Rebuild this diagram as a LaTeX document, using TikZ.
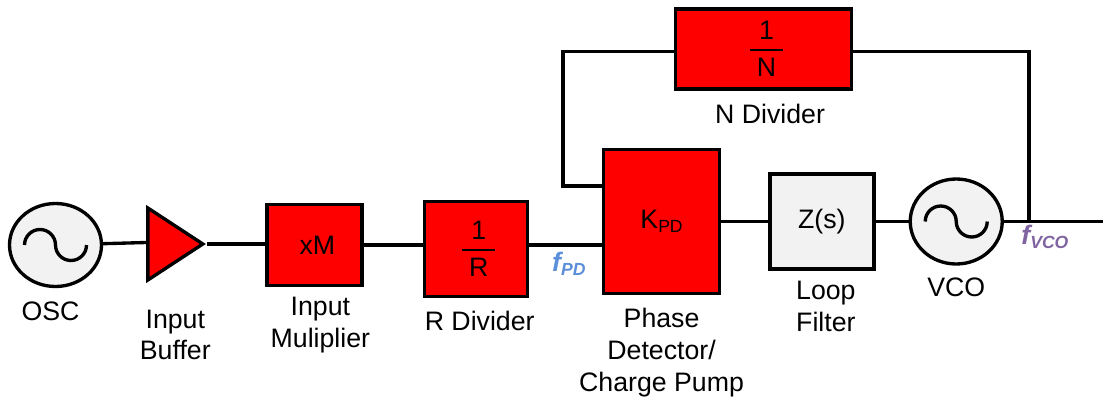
\documentclass[tikz,border=0pt]{standalone}
\usepackage{fontspec}
\setmainfont{Liberation Sans}
\usepackage{xcolor}
\usetikzlibrary{positioning,shapes.geometric}
\definecolor{blockred}{HTML}{FF0000}
\definecolor{blockgrey}{HTML}{F2F2F2}
\definecolor{pdblue}{HTML}{5B8FD9}
\definecolor{vcopurple}{HTML}{8064A2}
\newcommand{\lowtext}[1]{\raisebox{-0.3ex}{\fontsize{10}{12}\selectfont #1}}
\newcommand{\sinewave}[1]{\draw[wire] ([xshift=-0.62cm]#1.center) arc[start angle=180,end angle=0,radius=0.31cm] arc[start angle=180,end angle=360,radius=0.31cm];}
\newcommand{\ratio}[1]{\hspace*{0.12cm}1\\[-11.5pt]\hspace*{0.12cm}\rule{0.66cm}{1.1pt}\\[-3.3pt]\hspace*{0.12cm}#1}

\begin{document}
\begin{tikzpicture}[
  wire/.style={line width=1.9pt},
  block/.style={draw, line width=1.9pt, fill=blockred, align=center, font=\fontsize{15.2}{18}\selectfont, inner sep=0pt},
  gblock/.style={block, fill=blockgrey},
  source/.style={draw, line width=1.9pt, fill=blockgrey, ellipse, inner sep=0pt},
  amp/.style={draw, line width=1.9pt, fill=blockred, isosceles triangle, isosceles triangle stretches, inner sep=0pt, minimum width=1.44cm, minimum height=1.1cm},
  lbl/.style={align=center, inner sep=0pt, font=\fontsize{15.2}{18}\selectfont},
  freq/.style={inner sep=0pt, font=\fontsize{15.2}{18}\selectfont\bfseries\itshape}
]
\useasboundingbox (0,0) rectangle (22.06,7.96);
\node[source, minimum width=1.84cm, minimum height=1.66cm] (osc) at (1.11,3.06) {};
\node[amp, right=0.86cm of osc, yshift=0.02cm] (buf) {};
\node[block, minimum width=1.9cm, minimum height=1.62cm, right=1.16cm of buf, yshift=-0.02cm] (mult) {\hspace*{0.12cm}xM};
\node[block, minimum width=2.06cm, minimum height=1.9cm, right=1.18cm of mult, yshift=-0.08cm] (rdiv) {\ratio{R}};
\node[block, minimum width=2.32cm, minimum height=2.88cm, right=1.46cm of rdiv, yshift=0.55cm] (kpd) {K\lowtext{PD}};
\node[gblock, minimum width=2.08cm, minimum height=1.9cm, right=0.94cm of kpd] (zs) {Z(s)};
\node[source, minimum width=1.84cm, minimum height=1.7cm, right=0.66cm of zs] (vco) {};
\node[block, minimum width=3.52cm, minimum height=1.6cm, above=1.14cm of kpd, xshift=2.04cm] (ndiv) {\ratio{N}};
\coordinate[right=0.5cm of vco.east] (tap);
\coordinate[right=2cm of vco.east] (out);
\coordinate[left=0.78cm of kpd.west, yshift=0.71cm] (fbk);
\coordinate[below=0.05cm of ndiv.west] (nleft);
\coordinate[below=0.05cm of ndiv.east] (nright);
% labels
\node[lbl, below=0.26cm of osc, xshift=-0.1cm] (osclbl) {OSC};
\node[lbl, below=0.8cm of buf, xshift=0.16cm] (buflbl) {Input\\Buffer};
\node[lbl, below=0.2cm of mult, xshift=0.12cm] (multlbl) {Input\\Muliplier};
\node[lbl, below=0.26cm of rdiv, xshift=0.08cm] (rlbl) {R Divider};
\node[lbl, below=0.26cm of kpd] (kpdlbl) {Phase\\Detector/\\Charge Pump};
\node[lbl, below=0.2cm of zs, xshift=0.08cm] (zslbl) {Loop\\Filter};
\node[lbl, below=0.23cm of vco] (vcolbl) {VCO};
\node[lbl, below=0.25cm of ndiv, xshift=0.13cm] (nlbl) {N Divider};
\node[freq, text=pdblue, below=0.06cm of rdiv.east, xshift=0.8cm] (fpd) {f\lowtext{PD}};
\node[freq, text=vcopurple, below=0.06cm of tap, xshift=0.32cm] (fvco) {f\lowtext{VCO}};
% wires
\sinewave{osc}
\sinewave{vco}
\draw[wire] (osc) -- ([yshift=0.03cm]buf.west);
\draw[wire] (buf) -- (buf -| mult.west);
\draw[wire] (mult) -- (mult -| rdiv.west);
\draw[wire] (mult -| rdiv.east) -- (mult -| kpd.west);
\draw[wire] (kpd.east) -- (zs);
\draw[wire] (zs) -- (vco);
\draw[wire] (vco) -- (out);
\draw[wire] (nright) -| (tap);
\draw[wire] (nleft) -| (fbk) -- (fbk -| kpd.west);
\end{tikzpicture}
\end{document}
